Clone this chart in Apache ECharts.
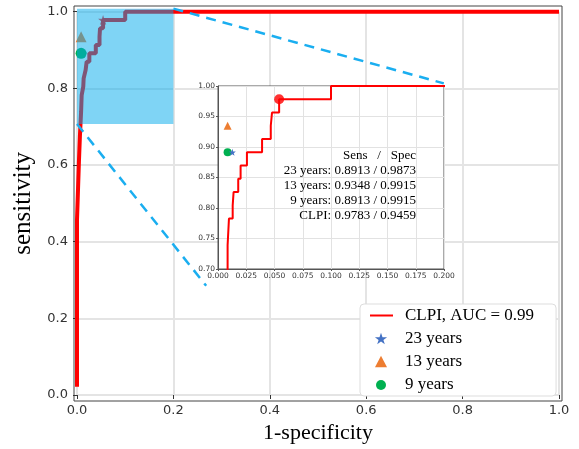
<!DOCTYPE html>
<html>
<head>
<meta charset="utf-8">
<script src="https://cdn.jsdelivr.net/npm/echarts@6/dist/echarts.min.js"></script>
<style>
  html, body { margin: 0; padding: 0; background: #fff; }
  #chart { width: 579px; height: 449px; }
</style>
</head>
<body>
<div id="chart"></div>
<script>
// ROC staircase of CLPI: 1-specificity / sensitivity
const rocFpr = [0, 0, 0.004, 0.004, 0.006, 0.006, 0.0085, 0.0085, 0.0097, 0.0097,
  0.0130, 0.0130, 0.0138, 0.0138, 0.0179, 0.0179, 0.0200, 0.0200, 0.0256, 0.0256,
  0.0390, 0.0390, 0.0467, 0.0467, 0.0478, 0.0478, 0.0541, 0.0541, 0.1000, 0.1000, 1.0]
const rocTpr = [0.0217, 0.4565, 0.4565, 0.6087, 0.6087, 0.6739, 0.6739, 0.7391, 0.7391, 0.7826,
  0.7826, 0.8043, 0.8043, 0.8261, 0.8261, 0.8478, 0.8478, 0.8696, 0.8696, 0.8913,
  0.8913, 0.9130, 0.9130, 0.9348, 0.9348, 0.9565, 0.9565, 0.9783, 0.9783, 1.0, 1.0]

// operating points listed in the inset
const groups = ['23 years', '13 years', '9 years', 'CLPI']
const sens = [0.8913, 0.9348, 0.8913, 0.9783]
const spec = [0.9873, 0.9915, 0.9915, 0.9459]
const aucName = 'CLPI, AUC = 0.99'

// zoomed region
const insetX = [0, 0.2]
const insetY = [0.7, 1.0]

const red = '#ff0000'
const colors = { '23 years': '#4472c4', '13 years': '#ed7d31', '9 years': '#00b050' }
const star = 'path://M50,0 L61.8,35.1 L98.9,35.1 L69.1,56.8 L80.9,91.9 L50,70.2 L19.1,91.9 L30.9,56.8 L1.1,35.1 L38.2,35.1 Z'
const symbols = { '23 years': star, '13 years': 'triangle', '9 years': 'circle' }

// legend icons, padded to a 30x12 box so they keep their size
const pad = (d) => 'path://M0,0 ' + d + ' M30,12'
const legendIcons = {
  [aucName]: pad('M0,5 L23,5 L23,7 L0,7 Z'),
  '23 years': pad('M11,0.3 L12.5,4.7 L17.1,4.7 L13.4,7.4 L14.8,11.8 L11,9.1 L7.2,11.8 L8.6,7.4 L4.9,4.7 L9.5,4.7 Z'),
  '13 years': pad('M11,0.3 L17,11.8 L5,11.8 Z'),
  '9 years': pad('M6,6.5 A5,5 0 1,0 16,6.5 A5,5 0 1,0 6,6.5 Z')
}

const serif = 'Liberation Serif'
const sans = 'DejaVu Sans'

const roc = rocFpr.map((x, i) => [x, rocTpr[i]])
const point = (g) => {
  const i = groups.indexOf(g)
  return [+(1 - spec[i]).toFixed(4), sens[i]]
}

const chart = echarts.init(document.getElementById('chart'))

const markerSeries = (g, size, axis, named) => ({
  name: named ? g : 'inset ' + g,
  type: 'scatter',
  xAxisIndex: axis,
  yAxisIndex: axis,
  symbol: symbols[g],
  symbolSize: size,
  itemStyle: { color: colors[g], opacity: 1 },
  z: axis ? 5 : 3,
  silent: true,
  data: [point(g)]
})

const insetText = ['Sens   /   Spec'].concat(
  groups.map((g, i) => g + ': ' + sens[i].toFixed(4) + ' / ' + spec[i].toFixed(4))
).join('\n')

const option = {
  animation: false,
  backgroundColor: '#fff',
  grid: [
    // frame of main axes
    { left: 74, top: 6, width: 488, height: 395, show: true, borderColor: '#444', borderWidth: 1, backgroundColor: 'transparent' },
    { left: 77, top: 11.7, width: 482, height: 386.3 },
    { left: 218, top: 86, width: 226, height: 183, show: true, borderColor: '#555', borderWidth: 1, backgroundColor: '#fff', z: 3 }
  ],
  xAxis: [
    {
      type: 'value', gridIndex: 1, min: 0, max: 1, interval: 0.2, offset: 3, z: 0,
      axisLine: { show: false },
      axisTick: { show: true, length: 4, lineStyle: { color: '#333' } },
      axisLabel: { formatter: (v) => v.toFixed(1), fontFamily: sans, fontSize: 13, color: '#333', margin: 6 },
      splitLine: { show: true, lineStyle: { color: '#e4e4e4', width: 2 } },
      name: '1-specificity', nameLocation: 'middle', nameGap: 24,
      nameTextStyle: { fontFamily: serif, fontSize: 22, color: '#000' }
    },
    {
      type: 'value', gridIndex: 2, min: insetX[0], max: insetX[1], interval: 0.025, z: 4,
      axisLine: { show: true, lineStyle: { color: '#555', width: 1 } },
      axisTick: { show: true, length: 2, lineStyle: { color: '#555' } },
      axisLabel: { formatter: (v) => v.toFixed(3), fontFamily: sans, fontSize: 7.5, color: '#333', margin: 3 },
      splitLine: { show: true, lineStyle: { color: '#e2e2e2', width: 1 } }
    }
  ],
  yAxis: [
    {
      type: 'value', gridIndex: 1, min: 0, max: 1, interval: 0.2, offset: 3, z: 0,
      axisLine: { show: false },
      axisTick: { show: true, length: 4, lineStyle: { color: '#333' } },
      axisLabel: { formatter: (v) => v.toFixed(1), fontFamily: sans, fontSize: 13, color: '#333', margin: 6 },
      splitLine: { show: true, lineStyle: { color: '#e4e4e4', width: 2 } },
      name: 'sensitivity', nameLocation: 'middle', nameGap: 27,
      nameTextStyle: { fontFamily: serif, fontSize: 25, color: '#000' }
    },
    {
      type: 'value', gridIndex: 2, min: insetY[0], max: insetY[1], interval: 0.05, z: 4,
      axisLine: { show: true, lineStyle: { color: '#555', width: 1 } },
      axisTick: { show: true, length: 2, lineStyle: { color: '#555' } },
      axisLabel: { formatter: (v) => v.toFixed(2), fontFamily: sans, fontSize: 7.5, color: '#333', margin: 3 },
      splitLine: { show: true, lineStyle: { color: '#e2e2e2', width: 1 } }
    }
  ],
  legend: {
    orient: 'vertical',
    left: 360, top: 304,
    padding: [3, 22, 3, 10],
    itemGap: 6, itemWidth: 30, itemHeight: 12,
    backgroundColor: '#fff', borderColor: '#ddd', borderWidth: 1, borderRadius: 4,
    textStyle: { fontFamily: serif, fontSize: 17, color: '#000', lineHeight: 17 },
    data: [aucName, '23 years', '13 years', '9 years'].map((n) => ({ name: n, icon: legendIcons[n] }))
  },
  graphic: [{
    type: 'text', x: 416, y: 147.5, z: 20,
    style: {
      text: insetText, align: 'right', verticalAlign: 'top',
      font: '13px "Liberation Serif"', lineHeight: 15.2, fill: '#000'
    }
  }],
  series: [
    {
      name: aucName, type: 'line', xAxisIndex: 0, yAxisIndex: 0,
      data: roc, symbol: 'none', clip: false, silent: true, z: 2,
      lineStyle: { color: red, width: 4 }, itemStyle: { color: red }
    },
    markerSeries('23 years', 8, 0, true),
    markerSeries('13 years', 11, 0, true),
    markerSeries('9 years', 11, 0, true),
    {
      name: 'main CLPI', type: 'scatter', xAxisIndex: 0, yAxisIndex: 0,
      symbol: star, symbolSize: 10, itemStyle: { color: red }, z: 3, silent: true,
      data: [point('CLPI')]
    },
    {
      // shaded zoom region
      name: 'zoom box', type: 'custom', xAxisIndex: 0, yAxisIndex: 0, z: 6, silent: true,
      data: [[insetX[0], insetY[0] + 0.007, insetX[1], insetY[1] + 0.008]],
      encode: { x: [0, 2], y: [1, 3] },
      renderItem: (params, api) => {
        const p0 = api.coord([api.value(0), api.value(3)])
        const p1 = api.coord([api.value(2), api.value(1)])
        return {
          type: 'rect',
          shape: { x: p0[0], y: p0[1], width: p1[0] - p0[0], height: p1[1] - p0[1] },
          style: { fill: 'rgba(0,170,236,0.5)' }
        }
      }
    },
    {
      name: 'link top', type: 'line', xAxisIndex: 0, yAxisIndex: 0, clip: false, silent: true, z: 7,
      symbol: 'none', data: [[0.2, 1.008], [0.761, 0.813]],
      lineStyle: { color: '#1aaef0', width: 2.5, type: [10, 7] }
    },
    {
      name: 'link bottom', type: 'line', xAxisIndex: 0, yAxisIndex: 0, clip: false, silent: true, z: 7,
      symbol: 'none', data: [[0, 0.707], [0.268, 0.285]],
      lineStyle: { color: '#1aaef0', width: 2.5, type: [10, 7] }
    },
    {
      name: 'inset roc', type: 'line', xAxisIndex: 1, yAxisIndex: 1,
      data: roc, symbol: 'none', clip: true, silent: true, z: 5,
      lineStyle: { color: red, width: 2 }
    },
    markerSeries('13 years', 8, 1, false),
    markerSeries('9 years', 8, 1, false),
    markerSeries('23 years', 7, 1, false),
    {
      name: 'inset CLPI', type: 'scatter', xAxisIndex: 1, yAxisIndex: 1,
      symbol: 'circle', symbolSize: 10, itemStyle: { color: red }, z: 6, silent: true,
      data: [point('CLPI')]
    }
  ]
}

chart.setOption(option)
</script>
</body>
</html>
